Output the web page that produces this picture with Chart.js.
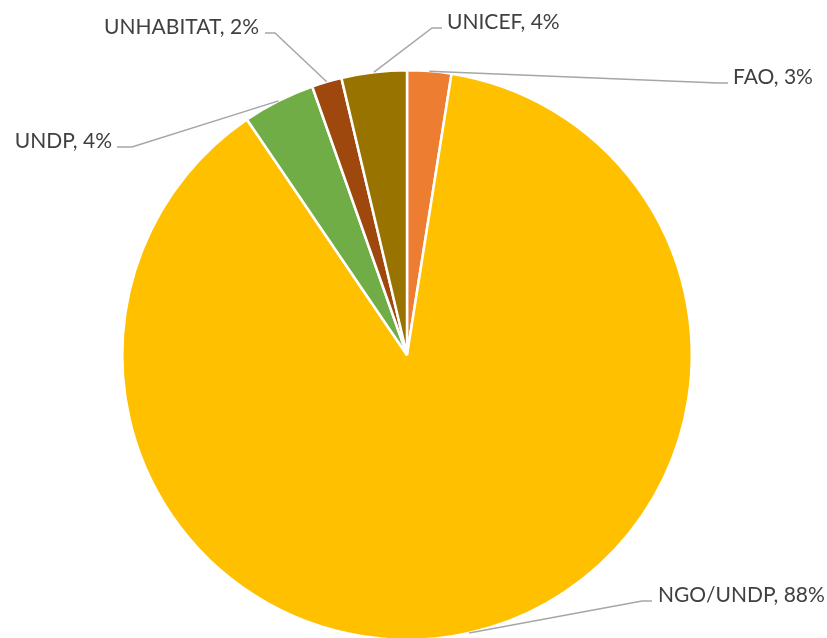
<!DOCTYPE html>
<html>
<head>
<meta charset="utf-8">
<script src="https://cdn.jsdelivr.net/npm/chart.js@4"></script>
<style>
  html, body { margin: 0; padding: 0; background: #fff; overflow: hidden; }
  #wrap { width: 827px; height: 660px; position: relative; }
</style>
</head>
<body>
<div id="wrap"><canvas id="c"></canvas></div>
<script>
const categories = ['FAO', 'NGO/UNDP', 'UNDP', 'UNHABITAT', 'UNICEF'];
const shares = [2.5, 88.0, 4.1, 1.7, 3.7];
const sliceColors = ['#ED7D31', '#FFC000', '#70AD47', '#9E480E', '#997300'];

// label placement (leader elbow, short horizontal end, text anchor)
const labelLayout = [
  { elbow: [718, 83], end: [728, 83], text: [733, 84], align: 'left' },
  { elbow: [642, 601], end: [652, 601], text: [658, 602], align: 'left' },
  { elbow: [132, 147], end: [117, 147], text: [112, 148], align: 'right' },
  { elbow: [275, 33], end: [265, 33], text: [259, 34], align: 'right' },
  { elbow: [432, 28], end: [442, 28], text: [447, 29], align: 'left' }
];

const leaderLabels = {
  id: 'leaderLabels',
  afterDatasetsDraw(chart) {
    const ctx = chart.ctx;
    const meta = chart.getDatasetMeta(0);
    const data = chart.data.datasets[0].data;
    const total = data.reduce((a, b) => a + b, 0);
    ctx.save();
    meta.data.forEach((arc, i) => {
      const p = arc.getProps(['x', 'y', 'startAngle', 'endAngle', 'outerRadius'], true);
      const mid = (p.startAngle + p.endAngle) / 2;
      const ax = p.x + Math.cos(mid) * p.outerRadius;
      const ay = p.y + Math.sin(mid) * p.outerRadius;
      const L = labelLayout[i];
      ctx.strokeStyle = '#A6A6A6';
      ctx.lineWidth = 1.5;
      ctx.beginPath();
      ctx.moveTo(ax, ay);
      ctx.lineTo(L.elbow[0], L.elbow[1]);
      ctx.lineTo(L.end[0], L.end[1]);
      ctx.stroke();
      const pct = Math.round(data[i] / total * 100);
      ctx.fillStyle = '#404040';
      ctx.font = '21px Lato, "Open Sans", sans-serif';
      ctx.textAlign = L.align;
      ctx.textBaseline = 'alphabetic';
      ctx.fillText(chart.data.labels[i] + ', ' + pct + '%', L.text[0], L.text[1]);
    });
    ctx.restore();
  }
};

new Chart(document.getElementById('c'), {
  type: 'pie',
  data: {
    labels: categories,
    datasets: [{
      data: shares,
      backgroundColor: sliceColors,
      borderColor: '#ffffff',
      borderWidth: 2.5
    }]
  },
  options: {
    responsive: true,
    maintainAspectRatio: false,
    animation: false,
    layout: { padding: { left: 121, right: 134, top: 69, bottom: 19 } },
    plugins: { legend: { display: false }, tooltip: { enabled: false } }
  },
  plugins: [leaderLabels]
});
</script>
</body>
</html>
